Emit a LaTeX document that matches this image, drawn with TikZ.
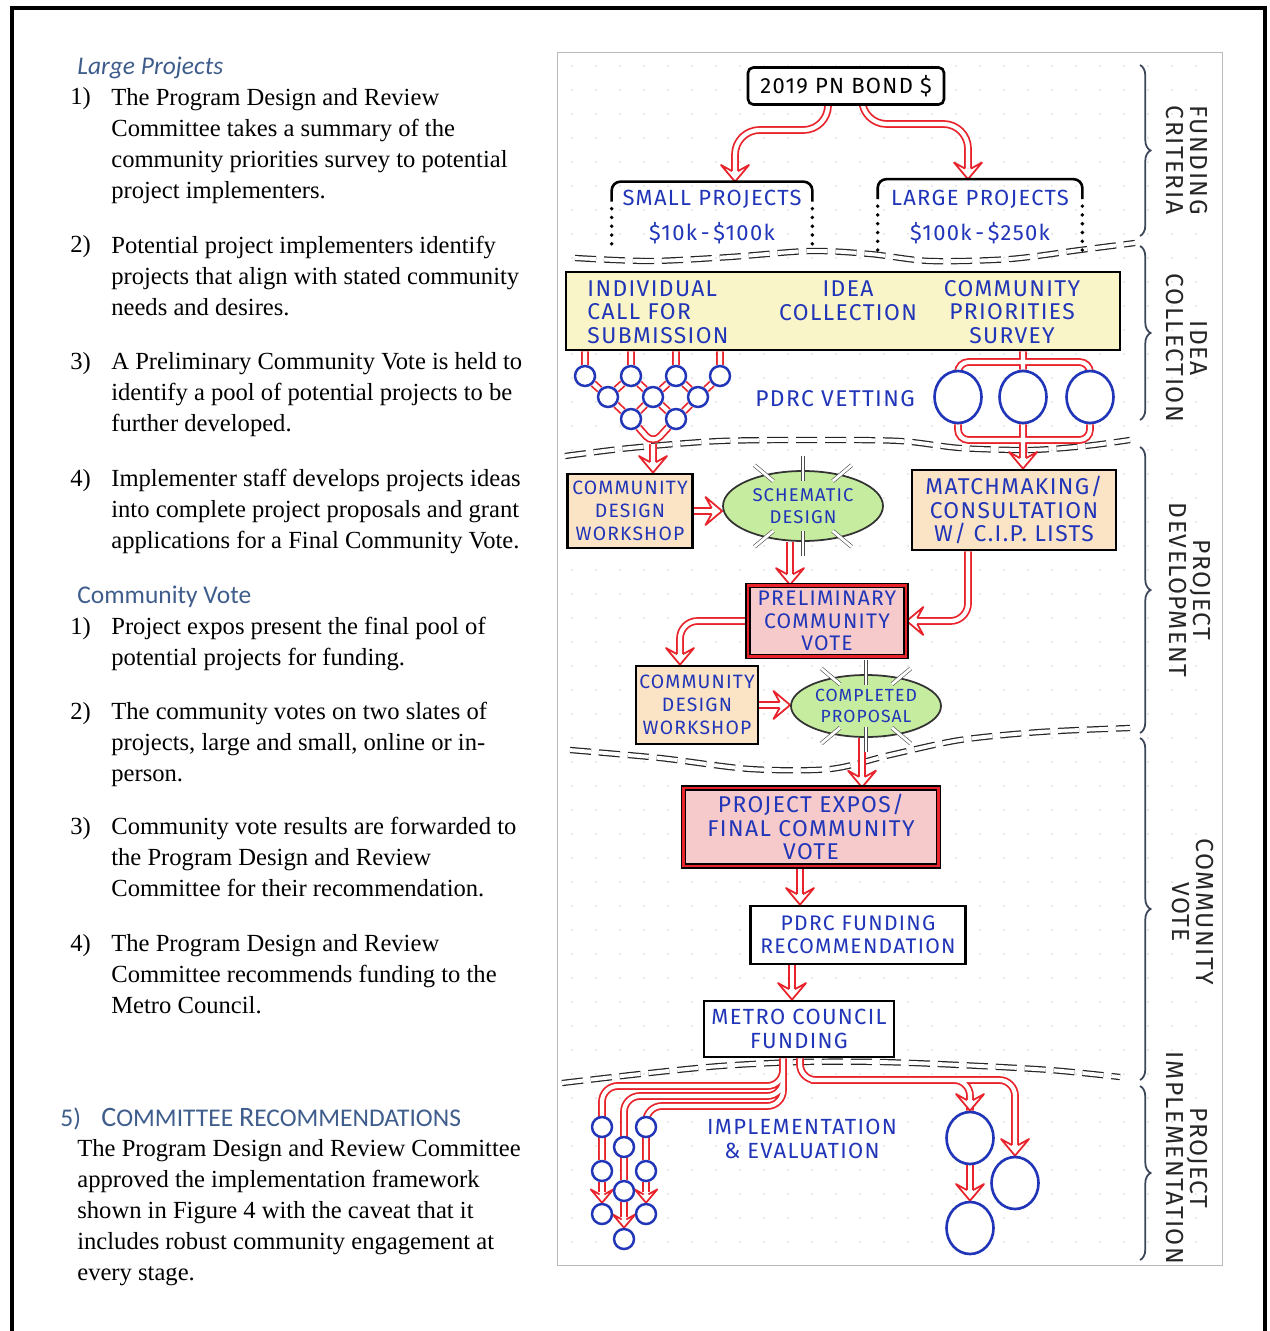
\documentclass[tikz,border=0pt]{standalone}
\usepackage{fontspec}
\setmainfont{Liberation Serif}
\newfontfamily\headfont{Carlito}
\newfontfamily\handfont{Fira Sans}[LetterSpace=6]
\usetikzlibrary{arrows.meta,shapes.geometric,decorations.pathreplacing,backgrounds,calc}
\definecolor{inkred}{HTML}{E8232B}
\definecolor{inkblue}{HTML}{2035B8}
\definecolor{headblue}{HTML}{3F5D8C}
\definecolor{tanfill}{HTML}{FBE3C5}
\definecolor{ideafill}{HTML}{FAF5C9}
\definecolor{votefill}{HTML}{F6CACA}
\definecolor{bubblefill}{HTML}{C6EC9F}
\definecolor{bracegray}{HTML}{3B4659}
\tikzset{
  arrowhead/.pic={\draw[draw=inkred, fill=white, line width=1pt, line join=round] (-6pt,1.7pt) -- (-9.5pt,8pt) -- (0pt,0pt) -- (-9.5pt,-8pt) -- (-6pt,-1.7pt);}
}
\begin{document}
\begin{tikzpicture}[x=0.02cm,y=-0.02cm,
  body/.style={font=\fontsize{14}{17.6}\selectfont, align=left, inner sep=0pt, anchor=base west},
  num/.style={font=\fontsize{14}{17.6}\selectfont, inner sep=0pt, anchor=base west},
  heading/.style={font=\headfont\fontsize{14.5}{17}\selectfont, text=headblue, inner sep=0pt, anchor=base west},
  hand/.style={font=\handfont\fontsize{12}{13}\selectfont, text=inkblue, align=center},
  big/.style={font=\handfont\fontsize{13}{13.5}\selectfont},
  mid/.style={font=\handfont\fontsize{12.5}{13.5}\selectfont},
  box/.style={hand, draw=black, line width=1.5pt, inner sep=0pt},
  tanbox/.style={box, fill=tanfill},
  votebox/.style={box, fill=votefill, double=inkred, double distance=1.3pt, line width=0.8pt},
  bubble/.style={hand, font=\handfont\fontsize{10}{12}\selectfont, ellipse, draw=black!80, line width=1pt, fill=bubblefill, inner sep=0pt},
  spark/.style={draw=black!70, line width=0.35pt, double=white, double distance=1.6pt},
  dot/.style={circle, draw=inkblue, line width=1.4pt, fill=white, minimum size=0.4cm, inner sep=0pt},
  pool/.style={ellipse, draw=inkblue, line width=1.5pt, fill=white, minimum width=0.94cm, minimum height=1.04cm, inner sep=0pt},
  flow/.style={draw=inkred, line width=1pt, double=white, double distance=2.4pt, rounded corners=6pt},
  tipped/.style={shorten >=6pt},
  divider/.style={draw=black!85, line width=0.7pt, double=white, double distance=2.2pt, dash pattern=on 12pt off 4.5pt},
  dotline/.style={line width=2.2pt, line cap=round, dash pattern=on 0pt off 5pt},
  stage/.style={decorate, decoration={brace, amplitude=6pt}, draw=bracegray, line width=1pt},
  stagelabel/.style={font=\handfont\fontsize{14}{13.5}\selectfont, text=black!85, align=center, rotate=-90}
]
\useasboundingbox (0,0) rectangle (1269,1331);
\draw[line width=2.3pt] (12,1331) -- (12,8) -- (1265,8) -- (1265,1331);

\node[heading, font=\headfont\itshape\fontsize{14.5}{17}\selectfont] (lphead) at (77,75) {Large Projects};
\node[num] (lpn1) at (70,105) {1)};
\node[body] (lp1) at (111,198) {The Program Design and Review\\Committee takes a summary of the\\community priorities survey to potential\\project implementers.};
\node[num] (lpn2) at (70,253) {2)};
\node[body] (lp2) at (111,315) {Potential project implementers identify\\projects that align with stated community\\needs and desires.};
\node[num] (lpn3) at (70,369) {3)};
\node[body] (lp3) at (111,431) {A Preliminary Community Vote is held to\\identify a pool of potential projects to be\\further developed.};
\node[num] (lpn4) at (70,486) {4)};
\node[body] (lp4) at (111,548) {Implementer staff develops projects ideas\\into complete project proposals and grant\\applications for a Final Community Vote.};

\node[heading] (cvhead) at (77,603) {Community Vote};
\node[num] (cvn1) at (70,634) {1)};
\node[body] (cv1) at (111,665) {Project expos present the final pool of\\potential projects for funding.};
\node[num] (cvn2) at (70,719) {2)};
\node[body] (cv2) at (111,781) {The community votes on two slates of\\projects, large and small, online or in-\\person.};
\node[num] (cvn3) at (70,834) {3)};
\node[body] (cv3) at (111,896) {Community vote results are forwarded to\\the Program Design and Review\\Committee for their recommendation.};
\node[num] (cvn4) at (70,951) {4)};
\node[body] (cv4) at (111,1013) {The Program Design and Review\\Committee recommends funding to the\\Metro Council.};

\node[heading] (crnum) at (60,1126) {5)};
\node[heading] (crhead) at (101,1126) {{\fontsize{16}{17}\selectfont C}OMMITTEE {\fontsize{16}{17}\selectfont R}ECOMMENDATIONS};
\node[body] (crtext) at (77,1280) {The Program Design and Review Committee\\approved the implementation framework\\shown in Figure 4 with the caveat that it\\includes robust community engagement at\\every stage.};

\node[box, mid, text=black, fill=white, rounded corners=3pt, minimum width=3.92cm, minimum height=0.74cm] (bond) at (846,86) {2019 PN BOND \$};
\node[hand, mid, minimum width=4cm, minimum height=1.4cm] (small) at (712,217) {SMALL PROJECTS\\[6pt]\$10k\,-\,\$100k};
\node[hand, mid, minimum width=4.08cm, minimum height=1.5cm] (large) at (980,217) {LARGE PROJECTS\\[6pt]\$100k\,-\,\$250k};
\draw[line width=1.5pt, rounded corners=5pt] ($(small.north west)+(0,20)$) -- (small.north west) -- (small.north east) -- ($(small.north east)+(0,20)$);
\draw[dotline] ($(small.north west)+(0,27)$) -- (small.south west);
\draw[dotline] ($(small.north east)+(0,27)$) -- (small.south east);
\draw[line width=1.5pt, rounded corners=5pt] ($(large.north west)+(0,20)$) -- (large.north west) -- (large.north east) -- ($(large.north east)+(0,20)$);
\draw[dotline] ($(large.north west)+(0,27)$) -- (large.south west);
\draw[dotline] ($(large.north east)+(0,27)$) -- (large.south east);

\node[box, fill=ideafill, minimum width=11.08cm, minimum height=1.56cm] (idea) at (843,311) {};
\node[hand, big, align=left] (call) at (658,312) {INDIVIDUAL\\CALL FOR\\SUBMISSION};
\node[hand, big] (collect) at (848,301) {IDEA\\COLLECTION};
\node[hand, big] (survey) at (1012,312) {COMMUNITY\\PRIORITIES\\SURVEY};

\node[dot] (t1) at (585,376) {};
\node[dot] (t2) at (631,376) {};
\node[dot] (t3) at (676,376) {};
\node[dot] (t4) at (720,376) {};
\node[dot] (u1) at (608,397) {};
\node[dot] (u2) at (653,397) {};
\node[dot] (u3) at (698,397) {};
\node[dot] (v1) at (631,419) {};
\node[dot] (v2) at (676,419) {};
\node[hand, big] (vet) at (835,399) {PDRC VETTING};
\node[pool] (p1) at (958,397) {};
\node[pool] (p2) at (1023,397) {};
\node[pool] (p3) at (1090,397) {};

\node[tanbox, font=\handfont\fontsize{11}{13}\selectfont, minimum width=2.5cm, minimum height=1.48cm] (cdw1) at (630,511) {COMMUNITY\\DESIGN\\WORKSHOP};
\node[bubble, font=\handfont\fontsize{10.5}{12.5}\selectfont, minimum width=3.2cm, minimum height=1.4cm] (sd) at (803,506) {SCHEMATIC\\DESIGN};
\node[tanbox, big, minimum width=4.08cm, minimum height=1.6cm] (match) at (1014,510) {MATCHMAKING/\\CONSULTATION\\W/ C.I.P. LISTS};
\node[votebox, minimum width=3.16cm, minimum height=1.42cm] (pcv) at (827,621) {PRELIMINARY\\COMMUNITY\\VOTE};
\node[tanbox, font=\handfont\fontsize{11}{13}\selectfont, minimum width=2.44cm, minimum height=1.56cm] (cdw2) at (697,705) {COMMUNITY\\DESIGN\\WORKSHOP};
\node[bubble, minimum width=3cm, minimum height=1.24cm] (cp) at (866,706) {COMPLETED\\PROPOSAL};
\node[votebox, big, minimum width=5.1cm, minimum height=1.56cm] (expos) at (811,827) {PROJECT EXPOS/\\FINAL COMMUNITY\\VOTE};
\node[box, fill=white, minimum width=4.3cm, minimum height=1.16cm] (fund) at (858,935) {PDRC FUNDING\\RECOMMENDATION};
\node[box, mid, fill=white, minimum width=3.8cm, minimum height=1.12cm] (metro) at (799,1029) {METRO COUNCIL\\FUNDING};
\foreach \a in {40,90,140,220,270,320} {
  \draw[spark] ($(sd.\a)!-8pt!(sd.center)$) -- ($(sd.\a)!6pt!(sd.center)$);
  \draw[spark] ($(cp.\a)!-8pt!(cp.center)$) -- ($(cp.\a)!6pt!(cp.center)$);
}

\node[hand, mid] (impl) at (802,1139) {IMPLEMENTATION\\\& EVALUATION};
\node[dot] (a1) at (602,1127) {};
\node[dot] (a2) at (602,1171) {};
\node[dot] (a3) at (602,1214) {};
\node[dot] (b1) at (624,1147) {};
\node[dot] (b2) at (624,1191) {};
\node[dot] (b3) at (624,1239) {};
\node[dot] (c1) at (646,1127) {};
\node[dot] (c2) at (646,1171) {};
\node[dot] (c3) at (646,1214) {};
\node[pool] (r1) at (970,1138) {};
\node[pool] (r2) at (1015,1183) {};
\node[pool] (r3) at (970,1228) {};

\draw[stage] (1140,65) -- (1140,236);
\draw[stage] (1140,246) -- (1140,420);
\draw[stage] (1140,447) -- (1140,733);
\draw[stage] (1140,738) -- (1140,1080);
\draw[stage] (1140,1086) -- (1140,1260);
\node[stagelabel] (fundlab) at (1187,160) {FUNDING\\CRITERIA};
\node[stagelabel] (idealab) at (1187,348) {IDEA\\COLLECTION};
\node[stagelabel] (devlab) at (1190,590) {PROJECT\\DEVELOPMENT};
\node[stagelabel] (votelab) at (1193,912) {COMMUNITY\\VOTE};
\node[stagelabel] (impllab) at (1187,1158) {PROJECT\\IMPLEMENTATION};

\begin{pgfonlayer}{background}
\draw[gray!55, line width=0.5pt] (557,52) rectangle (1222,1265);
\foreach \x in {572,596,...,1212} \foreach \y in {66,90,...,1254} \fill[gray!35] (\x,\y) circle (0.45pt);
\draw[divider] plot[smooth] coordinates {(575,258) (650,261) (730,257) (810,251) (870,254) (930,261) (1010,259) (1080,250) (1135,243)};
\draw[divider] plot[smooth] coordinates {(565,456) (630,448) (720,441) (820,440) (900,441) (960,448) (1030,450) (1085,446) (1130,440)};
\draw[divider] plot[smooth] coordinates {(570,750) (660,758) (750,769) (830,769) (890,755) (960,740) (1040,732) (1130,728)};
\draw[divider] plot[smooth] coordinates {(562,1083) (640,1074) (720,1066) (800,1062) (880,1062) (960,1065) (1050,1070) (1120,1077)};

\draw[flow, tipped, rounded corners=14pt] (828,0 |- bond.south) |- (735,130) -- (735,0 |- small.north);
\draw[flow, tipped, rounded corners=14pt] (862,0 |- bond.south) |- (968,124) -- (968,0 |- large.north);
\draw[flow, tipped] (t1 |- idea.south) -- (t1) (t2 |- idea.south) -- (t2) (t3 |- idea.south) -- (t3) (t4 |- idea.south) -- (t4)
  (t1) -- (u1) -- (t2) -- (u2) -- (t3) -- (u3) -- (t4) (u1) -- (v1) -- (u2) -- (v2) -- (u3)
  (v1) -- (653,444) -- (v2) (653,444) -- (653,0 |- cdw1.north);
\draw[flow, tipped] (p2 |- idea.south) -- (p2) (p1) |- (1023,362) -| (p3) (p1) |- (1023,440) -| (p3) (p2) -- (1023,0 |- match.north);
\draw[flow, tipped] (cdw1.east) -- (cdw1.east -| sd.west);
\draw[flow, tipped] (790,0 |- sd.south) -- (790,0 |- pcv.north);
\draw[flow, tipped, rounded corners=10pt] (968,0 |- match.south) |- (pcv.east);
\draw[flow, tipped, rounded corners=10pt] (pcv.west) -| (680,0 |- cdw2.north);
\draw[flow, tipped] (cdw2.east) -- (cdw2.east -| cp.west);
\draw[flow, tipped] (862,0 |- cp.south) -- (862,0 |- expos.north);
\draw[flow, tipped] (800,0 |- expos.south) -- (800,0 |- fund.north);
\draw[flow, tipped] (792,0 |- fund.south) -- (792,0 |- metro.north);
\draw[flow, rounded corners=9pt] (783,0 |- metro.south) |- (602,1086) -- (a2) (783,1070) |- (624,1096) -- (b2) (783,1070) |- (646,1106) -- (c2);
\draw[flow, tipped] (a2) -- (a3);
\draw[flow, tipped] (b2) -- (b3);
\draw[flow, tipped] (c2) -- (c3);
\draw[flow, tipped, shorten <=6pt, rounded corners=9pt] (r1) |- (800,1080) -- (800,0 |- metro.south) (800,1080) -| (r2);
\draw[flow, tipped] (r1) -- (r3);

\pic[rotate=-90] at (735,0 |- small.north) {arrowhead};
\pic[rotate=-90] at (968,0 |- large.north) {arrowhead};
\pic[rotate=-90] at (653,0 |- cdw1.north) {arrowhead};
\pic[rotate=-90] at (1023,0 |- match.north) {arrowhead};
\pic at (cdw1.east -| sd.west) {arrowhead};
\pic[rotate=-90] at (790,0 |- pcv.north) {arrowhead};
\pic[rotate=180] at (pcv.east) {arrowhead};
\pic[rotate=-90] at (680,0 |- cdw2.north) {arrowhead};
\pic at (cdw2.east -| cp.west) {arrowhead};
\pic[rotate=-90] at (862,0 |- expos.north) {arrowhead};
\pic[rotate=-90] at (800,0 |- fund.north) {arrowhead};
\pic[rotate=-90] at (792,0 |- metro.north) {arrowhead};
\pic[rotate=-90, scale=0.8] at (a3.north) {arrowhead};
\pic[rotate=-90, scale=0.8] at (b3.north) {arrowhead};
\pic[rotate=-90, scale=0.8] at (c3.north) {arrowhead};
\pic[rotate=-90] at (r1.north) {arrowhead};
\pic[rotate=-90] at (r2.north) {arrowhead};
\pic[rotate=-90] at (r3.north) {arrowhead};
\end{pgfonlayer}
\end{tikzpicture}
\end{document}
